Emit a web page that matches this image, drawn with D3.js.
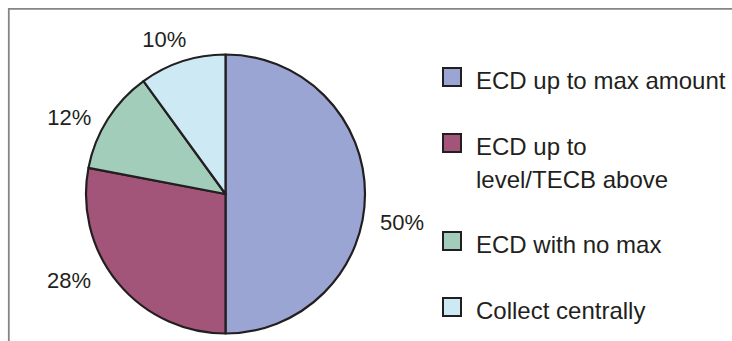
<!DOCTYPE html>
<html>
<head>
<meta charset="utf-8">
<script src="https://cdn.jsdelivr.net/npm/d3@7"></script>
<style>
  html, body { margin: 0; padding: 0; background: #ffffff; }
  svg { display: block; }
  text { font-family: "Liberation Sans", Arial, Helvetica, sans-serif; fill: #231f20; }
</style>
</head>
<body>
<svg id="chart" width="732" height="341"></svg>
<script>
// Share of approaches (percent of respondents)
const categories = [
  "ECD up to max amount",
  "ECD up to\nlevel/TECB above",
  "ECD with no max",
  "Collect centrally"
];
const values = [50, 28, 12, 10];
const colors = ["#9aa5d3", "#a25479", "#a2cdba", "#cde9f4"];

const W = 732, H = 341;
const svg = d3.select("#chart");

// Frame: top and left edges only
svg.append("path")
  .attr("d", `M8.8,${H} V8.8 H${W}`)
  .attr("fill", "none")
  .attr("stroke", "#858585")
  .attr("stroke-width", 1.8);

const cx = 225.5, cy = 194, radius = 139.5;
const data = categories.map((c, i) => ({ name: c, value: values[i], color: colors[i] }));

const pie = d3.pie().value(d => d.value).sort(null);
const arcs = pie(data);
const arc = d3.arc().innerRadius(0).outerRadius(radius);

const g = svg.append("g").attr("transform", `translate(${cx},${cy})`);

g.selectAll("path.slice")
  .data(arcs)
  .join("path")
  .attr("class", "slice")
  .attr("d", arc)
  .attr("fill", d => d.data.color)
  .attr("stroke", "#231f20")
  .attr("stroke-width", 2.2)
  .attr("stroke-linejoin", "round");

// Percentage labels sit outside the rim along each slice's mid-angle,
// with a small best-fit shift like the spreadsheet layout
const labelRadius = 172;
const labelShift = [[4.5, 28], [-24, -24], [-11, 15], [-8, 9]];
g.selectAll("text.pct")
  .data(arcs)
  .join("text")
  .attr("class", "pct")
  .attr("x", (d, i) => labelRadius * Math.sin((d.startAngle + d.endAngle) / 2) + labelShift[i][0])
  .attr("y", (d, i) => -labelRadius * Math.cos((d.startAngle + d.endAngle) / 2) + labelShift[i][1])
  .attr("dy", "0.36em")
  .attr("text-anchor", "middle")
  .style("font-size", "22px")
  .text(d => d.data.value + "%");

// Legend
const legendX = 442, textX = 476, box = 20;
const itemGap = 66, lineGap = 32;
let baseline = 89;
const legend = svg.append("g");
data.forEach(d => {
  const lines = d.name.split("\n");
  const item = legend.append("g");
  item.append("rect")
    .attr("x", legendX + 1)
    .attr("y", baseline - 2 - box + 1)
    .attr("width", box - 2)
    .attr("height", box - 2)
    .attr("fill", d.color)
    .attr("stroke", "#231f20")
    .attr("stroke-width", 2);
  const t = item.append("text")
    .attr("x", textX)
    .attr("y", baseline)
    .style("font-size", "24px");
  lines.forEach((ln, k) => {
    t.append("tspan")
      .attr("x", textX)
      .attr("y", baseline + k * (lineGap + 1))
      .text(ln);
  });
  baseline += itemGap + (lines.length - 1) * lineGap;
});
</script>
</body>
</html>
